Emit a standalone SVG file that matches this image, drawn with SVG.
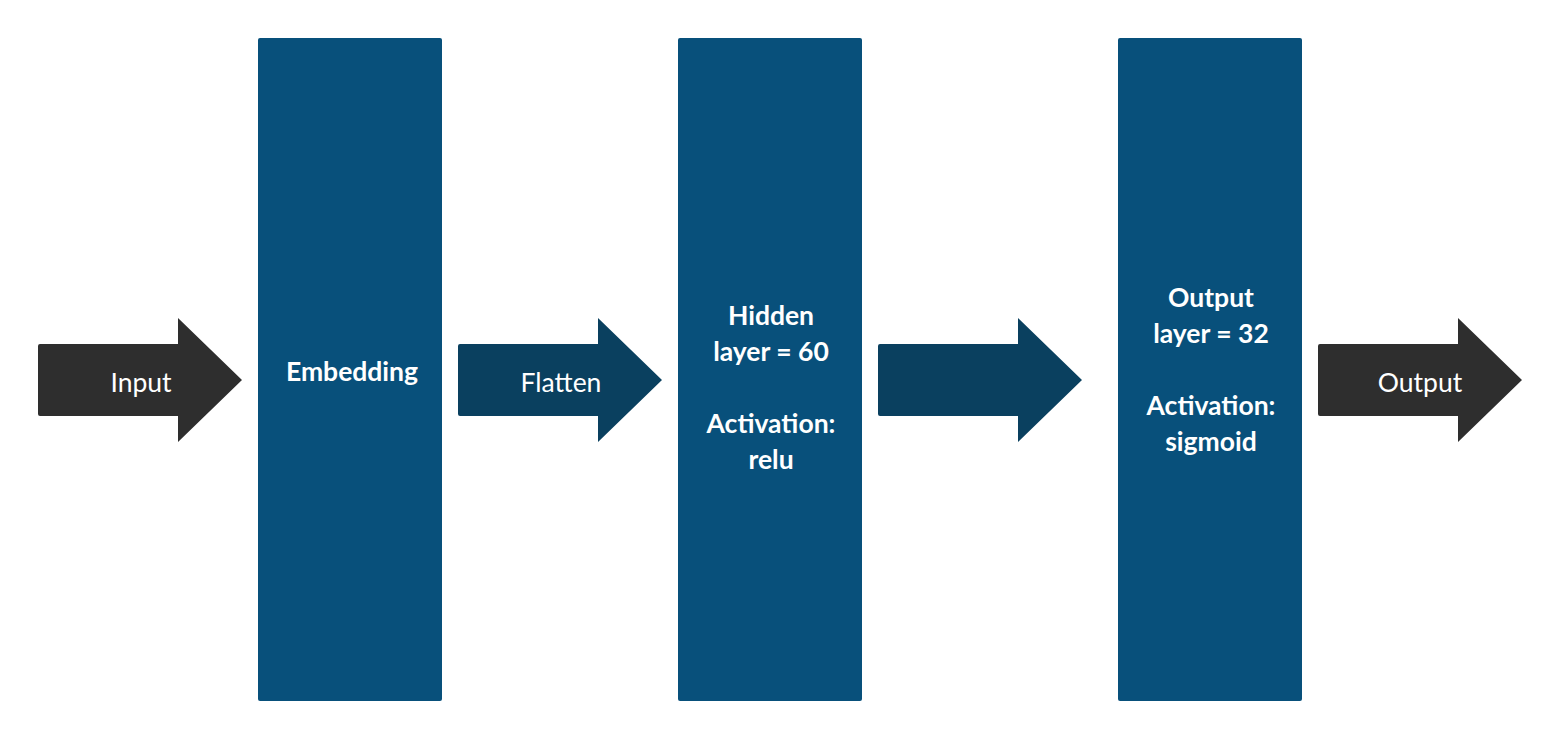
<svg xmlns="http://www.w3.org/2000/svg" width="1560" height="740" viewBox="0 0 1560 740">
<style>
.box{fill:#08507B;}
.dark{fill:#2E2E2E;}
.blue{fill:#0A405F;}
.lbl{font-family:Lato,"Liberation Sans",sans-serif;font-size:26.5px;fill:#FFFFFF;text-anchor:middle;}
.b{font-weight:bold;}
</style>
<rect width="1560" height="740" fill="#FFFFFF"/>
<g id="connectors">
<g id="arrow-input">
<path class="dark" d="M40,344 H178 V318 L242,380 L178,442 V416 H40 Q38,416 38,414 V346 Q38,344 40,344 Z"/>
<text class="lbl" x="141" y="392">Input</text>
</g>
<g id="arrow-flatten">
<path class="blue" d="M460,344 H598 V318 L662,380 L598,442 V416 H460 Q458,416 458,414 V346 Q458,344 460,344 Z"/>
<text class="lbl" x="561" y="392">Flatten</text>
</g>
<g id="arrow-mid">
<path class="blue" d="M880,344 H1018 V318 L1082,380 L1018,442 V416 H880 Q878,416 878,414 V346 Q878,344 880,344 Z"/>
</g>
<g id="arrow-output">
<path class="dark" d="M1320,344 H1458 V318 L1522,380 L1458,442 V416 H1320 Q1318,416 1318,414 V346 Q1318,344 1320,344 Z"/>
<text class="lbl" x="1420" y="392">Output</text>
</g>
</g>
<g id="node-embedding">
<rect class="box" x="258" y="38" width="184" height="663" rx="2"/>
<text class="lbl b" x="352" y="381">Embedding</text>
</g>
<g id="node-hidden">
<rect class="box" x="678" y="38" width="184" height="663" rx="2"/>
<text class="lbl b" x="771" y="325">Hidden</text>
<text class="lbl b" x="771" y="361">layer = 60</text>
<text class="lbl b" x="771" y="433">Activation:</text>
<text class="lbl b" x="771" y="469">relu</text>
</g>
<g id="node-output">
<rect class="box" x="1118" y="38" width="184" height="663" rx="2"/>
<text class="lbl b" x="1211" y="307">Output</text>
<text class="lbl b" x="1211" y="343">layer = 32</text>
<text class="lbl b" x="1211" y="415">Activation:</text>
<text class="lbl b" x="1211" y="451">sigmoid</text>
</g>
</svg>
